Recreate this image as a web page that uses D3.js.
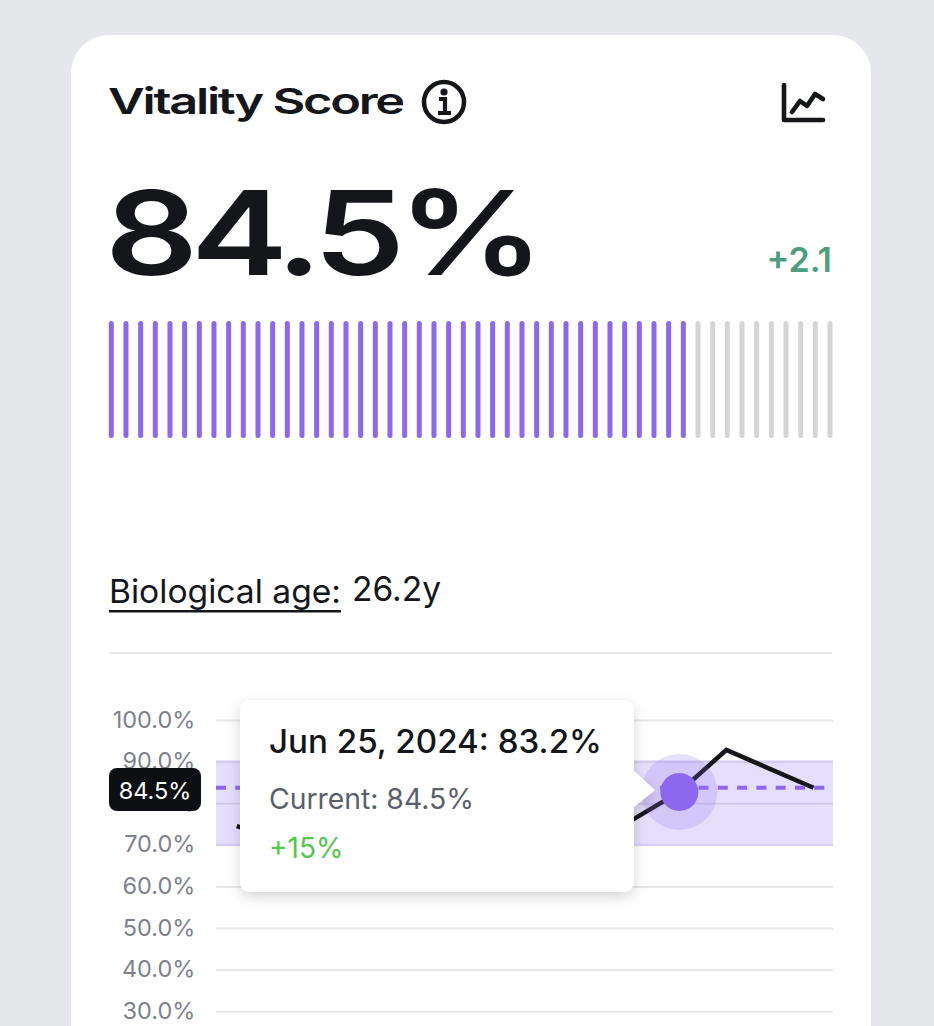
<!DOCTYPE html>
<html>
<head>
<meta charset="utf-8">
<script src="https://cdn.jsdelivr.net/npm/d3@7"></script>
<style>
  html, body { margin: 0; padding: 0; background: #e5e7eb; overflow: hidden; }
  svg { display: block; font-family: Inter, "Noto Sans", sans-serif; }
  .tick text { font-family: Inter, "Noto Sans", sans-serif; }
</style>
</head>
<body>
<div id="chart"></div>
<script>
var width = 934, height = 1026;

// values
var tickValues = [100, 90, 80, 70, 60, 50, 40, 30];
var lineDates = ["2024-04-20", "2024-04-21", "2024-06-18", "2024-06-25", "2024-07-02", "2024-07-15"];
var lineValues = [74.5, 74, 76, 82.7, 92.8, 83.7];
var gaugeCount = 50;
var gaugeFilled = 40;
var bandRange = [90, 70];
var currentLevel = 83.7;
var hoverDate = "2024-06-25";
var hoverLevel = 82.7;

var purple = "#8b68ee",
    ink = "#14161a";

var parseDay = d3.utcParse("%Y-%m-%d");

var svg = d3.select("#chart").append("svg")
    .attr("width", width)
    .attr("height", height);

var defs = svg.append("defs");
defs.append("filter").attr("id", "tipShadow")
    .attr("x", "-10%").attr("y", "-10%").attr("width", "120%").attr("height", "125%")
  .append("feDropShadow")
    .attr("dx", 0).attr("dy", 5).attr("stdDeviation", 7)
    .attr("flood-color", "#000").attr("flood-opacity", 0.16);

// stretches a text sideways so it fills w, the wide display face is not installed
function wideText(str, x, yPos, w, size, weight, spacing) {
  var t = svg.append("text")
      .style("font-size", size + "px")
      .style("font-weight", weight)
      .style("letter-spacing", spacing + "em")
      .attr("fill", ink)
      .text(str);
  var len = t.node().getComputedTextLength();
  t.attr("transform", "translate(" + x + "," + yPos + ") scale(" + (w / len) + ",1)");
  return t;
}

// card
svg.append("rect")
    .attr("x", 71).attr("y", 35)
    .attr("width", 800).attr("height", 1100)
    .attr("rx", 38)
    .attr("fill", "#fff");

// header
wideText("Vitality Score", 108, 114, 295, 36, 600, -0.045);

var info = svg.append("g").attr("transform", "translate(444,102)");
info.append("circle").attr("r", 20)
    .attr("fill", "none").attr("stroke", ink).attr("stroke-width", 4.5);
info.append("circle").attr("cy", -10).attr("r", 3.6).attr("fill", ink);
info.append("path")
    .attr("d", "M-5,-3H1V10M-6,11H7")
    .attr("fill", "none").attr("stroke", ink).attr("stroke-width", 4.2);

var icon = svg.append("g")
    .attr("fill", "none").attr("stroke", ink)
    .attr("stroke-width", 4.6).attr("stroke-linecap", "round").attr("stroke-linejoin", "round");
icon.append("path").attr("d", "M784,85V120H823");
icon.append("path").attr("d", "M792,112L800,101L807,106L815,94L823,99");

wideText("84.5%", 105, 275, 432, 117, 600, -0.05);

svg.append("text")
    .attr("x", 832).attr("y", 272)
    .attr("text-anchor", "end")
    .style("font-size", "34px").style("font-weight", 600)
    .attr("fill", "#4c9f7c")
    .text("+2.1");

// gauge
var xGauge = d3.scaleLinear().domain([0, gaugeCount - 1]).range([111.3, 830]);

svg.append("g").selectAll("rect")
    .data(d3.range(gaugeCount))
    .enter().append("rect")
    .attr("x", function(d) { return xGauge(d) - 2.5; })
    .attr("y", 321)
    .attr("width", 5)
    .attr("height", 117)
    .attr("rx", 2.5)
    .attr("fill", function(d) { return d < gaugeFilled ? purple : "#d3d5d6"; });

// biological age
svg.append("text")
    .attr("x", 109).attr("y", 603)
    .attr("textLength", 232).attr("lengthAdjust", "spacingAndGlyphs")
    .style("font-size", "33px")
    .attr("fill", ink)
    .text("Biological age:");
svg.append("rect")
    .attr("x", 109).attr("y", 610).attr("width", 232).attr("height", 2.5)
    .attr("fill", ink);
svg.append("text")
    .attr("x", 352).attr("y", 601)
    .attr("textLength", 89).attr("lengthAdjust", "spacingAndGlyphs")
    .style("font-size", "34px")
    .attr("fill", ink)
    .text("26.2y");
svg.append("rect")
    .attr("x", 109).attr("y", 652).attr("width", 723).attr("height", 2)
    .attr("fill", "#e8e9ea");

// chart
var x = d3.scaleUtc()
    .domain([parseDay("2024-04-17"), parseDay("2024-07-18")])
    .range([216.6, 833.6]);
var y = d3.scaleLinear().domain([0, 100]).range([1136, 720]);

var yAxis = d3.axisLeft(y)
    .tickValues(tickValues)
    .tickSizeInner(-617)
    .tickSizeOuter(0)
    .tickPadding(20.6)
    .tickFormat(function(d) { return d3.format(".1f")(d) + "%"; });

var gy = svg.append("g")
    .attr("transform", "translate(216,0)")
    .call(yAxis);
gy.select(".domain").remove();
gy.selectAll(".tick line").attr("stroke", "#e6e7e9").attr("stroke-width", 2);
gy.selectAll(".tick text").attr("fill", "#7f828d").style("font-size", "23.5px").attr("dy", "0.3em");

// target band
svg.append("rect")
    .attr("x", x.range()[0] - 0.6).attr("y", y(bandRange[0]))
    .attr("width", 617)
    .attr("height", y(bandRange[1]) - y(bandRange[0]))
    .attr("fill", "#7c5cf0").attr("fill-opacity", 0.2);
svg.append("g").selectAll("line")
    .data(bandRange)
    .enter().append("line")
    .attr("x1", x.range()[0] - 0.6).attr("x2", x.range()[1] - 0.6)
    .attr("y1", function(d) { return y(d); })
    .attr("y2", function(d) { return y(d); })
    .attr("stroke", "#d3cbf3").attr("stroke-width", 2);

var line = d3.line()
    .x(function(d) { return x(parseDay(d[0])); })
    .y(function(d) { return y(d[1]); });

svg.append("path")
    .datum(d3.zip(lineDates, lineValues))
    .attr("d", line)
    .attr("fill", "none")
    .attr("stroke", ink)
    .attr("stroke-width", 4.5);

svg.append("line")
    .attr("x1", x.range()[0] - 0.6).attr("x2", x.range()[1] - 0.6)
    .attr("y1", y(currentLevel)).attr("y2", y(currentLevel))
    .attr("stroke", purple).attr("stroke-width", 4)
    .attr("stroke-dasharray", "10 9.3");

// hovered point
svg.append("circle")
    .attr("cx", x(parseDay(hoverDate))).attr("cy", y(hoverLevel))
    .attr("r", 38)
    .attr("fill", "#8b68ee").attr("fill-opacity", 0.2);
svg.append("circle")
    .attr("cx", x(parseDay(hoverDate))).attr("cy", y(hoverLevel))
    .attr("r", 19)
    .attr("fill", purple);

// current value badge
svg.append("rect")
    .attr("x", 109).attr("y", 768)
    .attr("width", 92).attr("height", 43)
    .attr("rx", 8)
    .attr("fill", "#0d0f13");
svg.append("text")
    .attr("x", 155).attr("y", 799)
    .attr("text-anchor", "middle")
    .style("font-size", "23.5px")
    .attr("fill", "#fff")
    .text("84.5%");

// tooltip
var tip = svg.append("g").attr("filter", "url(#tipShadow)");
tip.append("path")
    .attr("d", "M250,700H624A10,10 0 0 1 634,710V771L655,790L634,807V882A10,10 0 0 1 624,892H250A10,10 0 0 1 240,882V710A10,10 0 0 1 250,700Z")
    .attr("fill", "#fff");

svg.append("text")
    .attr("x", 269).attr("y", 753)
    .attr("textLength", 333).attr("lengthAdjust", "spacingAndGlyphs")
    .style("font-size", "32px").style("font-weight", 500)
    .attr("fill", ink)
    .text("Jun 25, 2024: 83.2%");
svg.append("text")
    .attr("x", 269).attr("y", 809)
    .attr("textLength", 205).attr("lengthAdjust", "spacingAndGlyphs")
    .style("font-size", "28px")
    .attr("fill", "#5b5f6b")
    .text("Current: 84.5%");
svg.append("text")
    .attr("x", 269).attr("y", 858)
    .style("font-size", "28px")
    .attr("fill", "#56c64f")
    .text("+15%");
</script>
</body>
</html>
